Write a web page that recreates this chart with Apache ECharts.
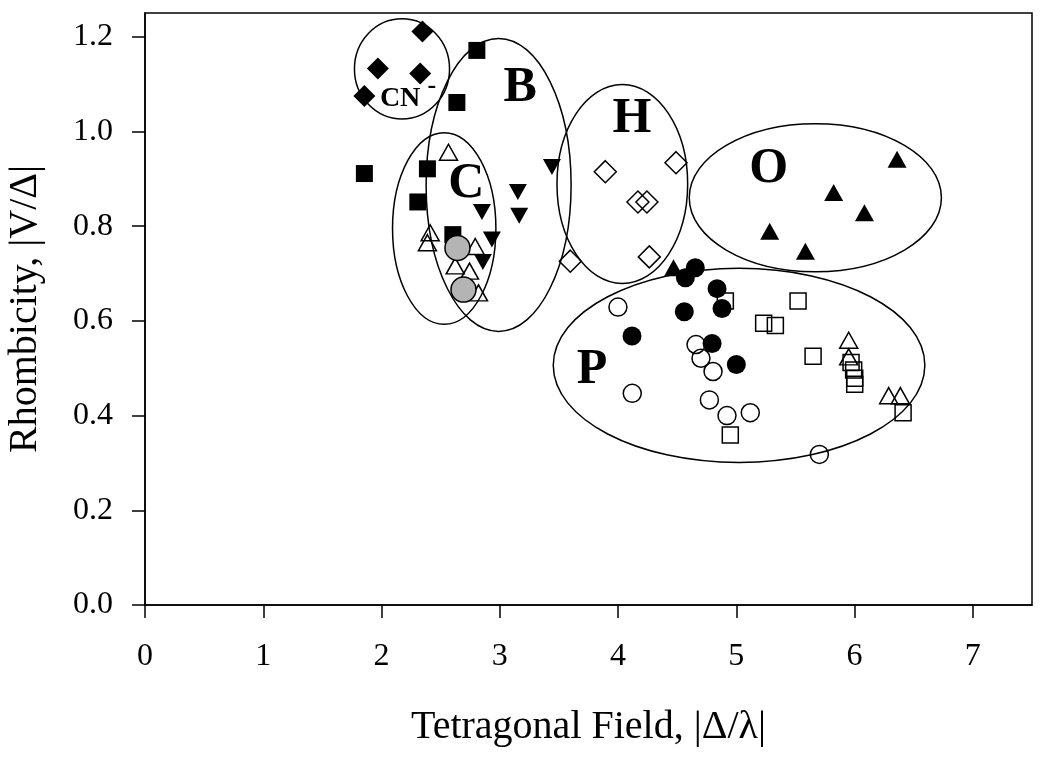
<!DOCTYPE html>
<html>
<head>
<meta charset="utf-8">
<script src="https://cdn.jsdelivr.net/npm/echarts@6/dist/echarts.min.js"></script>
<style>
html,body{margin:0;padding:0;background:#fff;}
#chart{width:1050px;height:762px;}
</style>
</head>
<body>
<div id="chart"></div>
<script>
// ---- tick labels ----
const xTicks = [0, 1, 2, 3, 4, 5, 6, 7];
const yTicks = [0.0, 0.2, 0.4, 0.6, 0.8, 1.0, 1.2];

// ---- series data ----
const cnX = [2.346, 1.969, 2.327, 1.855];
const cnY = [1.211, 1.133, 1.122, 1.075];

const bSqX = [2.806, 2.637, 1.855, 2.388, 2.307, 2.603];
const bSqY = [1.171, 1.061, 0.911, 0.921, 0.851, 0.782];

const bTriX = [3.441, 3.153, 2.849, 3.164, 2.933, 2.857];
const bTriY = [0.925, 0.872, 0.830, 0.822, 0.772, 0.724];

const cTriX = [2.566, 2.411, 2.388, 2.792, 2.623, 2.744, 2.820];
const cTriY = [0.956, 0.786, 0.765, 0.757, 0.716, 0.705, 0.659];

const grayX = [2.642, 2.693];
const grayY = [0.754, 0.666];

const hDiaX = [3.892, 4.490, 4.168, 4.244, 4.264, 3.596];
const hDiaY = [0.915, 0.934, 0.851, 0.851, 0.735, 0.726];

const oTriX = [6.359, 5.823, 6.083, 5.282, 5.584, 4.469];
const oTriY = [0.941, 0.871, 0.828, 0.789, 0.747, 0.712];

const pDotX = [4.653, 4.569, 4.837, 4.879, 4.560, 4.118, 4.795, 5.000];
const pDotY = [0.712, 0.691, 0.668, 0.626, 0.619, 0.568, 0.552, 0.508];

const pCirX = [3.999, 4.659, 4.701, 4.803, 4.120, 4.772, 4.921, 5.118, 5.702];
const pCirY = [0.629, 0.550, 0.521, 0.493, 0.447, 0.433, 0.400, 0.406, 0.318];

const pSqX = [4.907, 5.522, 5.231, 5.330, 5.649, 5.970, 5.992, 6.001, 6.001, 6.410, 4.949];
const pSqY = [0.642, 0.642, 0.595, 0.590, 0.525, 0.512, 0.496, 0.479, 0.466, 0.406, 0.359];

const pTriX = [5.950, 5.950, 6.288, 6.387];
const pTriY = [0.559, 0.524, 0.442, 0.442];

// ---- group ellipses (centre x, centre y, radius x, radius y in data units) ----
const ellCx = [2.173, 2.990, 2.530, 4.036, 5.668, 5.023];
const ellCy = [1.132, 0.887, 0.795, 0.889, 0.860, 0.506];
const ellRx = [0.402, 0.613, 0.437, 0.5525, 1.066, 1.571];
const ellRy = [0.1056, 0.3094, 0.2024, 0.210, 0.1563, 0.2049];

// ---- group labels ----
const labText = ['CN', '-', 'B', 'C', 'H', 'O', 'P'];
const labX = [2.157, 2.426, 3.173, 2.716, 4.118, 5.273, 3.779];
const labY = [1.068, 1.095, 1.092, 0.888, 1.025, 0.921, 0.497];

const FONT = '"Liberation Serif", "Times New Roman", serif';
const zip = (xs, ys) => xs.map((v, i) => [v, ys[i]]);

function sc(name, xs, ys, symbol, size, filled, extra) {
  return Object.assign({
    name: name,
    type: 'scatter',
    data: zip(xs, ys),
    symbol: symbol,
    symbolSize: size,
    z: 3,
    silent: true,
    itemStyle: filled
      ? { color: '#000', borderColor: '#000', borderWidth: 0, opacity: 1 }
      : { color: 'rgba(255,255,255,0)', borderColor: '#000', borderWidth: 1.5, opacity: 1 }
  }, extra || {});
}

const labelSizes = { 'CN': 28, '-': 26, 'B': 50, 'C': 50, 'H': 50, 'O': 50, 'P': 50 };

const chart = echarts.init(document.getElementById('chart'), null, { renderer: 'canvas' });
chart.setOption({
  animation: false,
  backgroundColor: '#fff',
  grid: {
    left: 145, right: 18, top: 13, bottom: 157,
    containLabel: false, outerBoundsMode: 'none',
    show: true, borderColor: '#000', borderWidth: 1.5, backgroundColor: 'transparent'
  },
  xAxis: {
    type: 'value', min: 0, max: 7.5, interval: 1,
    name: 'Tetragonal Field, |Δ/λ|',
    nameLocation: 'middle', nameGap: 102,
    nameTextStyle: { fontFamily: FONT, fontSize: 40, color: '#000' },
    axisLine: { show: true, onZero: false, lineStyle: { color: '#000', width: 1.5 } },
    axisTick: { show: true, inside: false, length: 13, lineStyle: { color: '#000', width: 1.5 }, customValues: xTicks },
    axisLabel: { fontFamily: FONT, fontSize: 32, color: '#000', margin: 36, customValues: xTicks,
                 formatter: v => String(v) },
    splitLine: { show: false }
  },
  yAxis: {
    type: 'value', min: 0, max: 1.25, interval: 0.2,
    name: 'Rhombicity, |V/Δ|',
    nameLocation: 'middle', nameGap: 100, nameRotate: 90,
    nameTextStyle: { fontFamily: FONT, fontSize: 40, color: '#000' },
    axisLine: { show: true, onZero: false, lineStyle: { color: '#000', width: 1.5 } },
    axisTick: { show: true, inside: false, length: 13, lineStyle: { color: '#000', width: 1.5 }, customValues: yTicks },
    axisLabel: { fontFamily: FONT, fontSize: 32, color: '#000', margin: 32, customValues: yTicks,
                 formatter: v => Number(v).toFixed(1) },
    splitLine: { show: false }
  },
  series: [
    {
      name: 'ellipses', type: 'custom', z: 1, silent: true,
      data: ellCx.map((v, i) => [v, ellCy[i], ellRx[i], ellRy[i]]),
      renderItem: function (params, api) {
        const c = api.coord([api.value(0), api.value(1)]);
        const s = api.size([api.value(2), api.value(3)]);
        return {
          type: 'ellipse',
          shape: { cx: c[0], cy: c[1], rx: s[0], ry: s[1] },
          style: { fill: 'none', stroke: '#000', lineWidth: 1.5 }
        };
      }
    },
    sc('CN', cnX, cnY, 'diamond', 22, true),
    sc('Bsq', bSqX, bSqY, 'rect', 17, true),
    sc('Btri', bTriX, bTriY, 'triangle', [18, 16], true, { symbolRotate: 180 }),
    sc('Ctri', cTriX, cTriY, 'triangle', [18, 16], false),
    sc('gray', grayX, grayY, 'circle', 25, true,
       { z: 4, itemStyle: { color: '#b4b4b4', borderColor: '#000', borderWidth: 1.5, opacity: 1 } }),
    sc('Hdia', hDiaX, hDiaY, 'diamond', 22, false),
    sc('Otri', oTriX, oTriY, 'triangle', [19, 17], true),
    sc('Pcir', pCirX, pCirY, 'circle', 18, false),
    sc('Psq', pSqX, pSqY, 'rect', 16, false),
    sc('Ptri', pTriX, pTriY, 'triangle', [18, 16], false),
    sc('Pdot', pDotX, pDotY, 'circle', 19, true, { z: 4 }),
    {
      name: 'labels', type: 'custom', z: 5, silent: true,
      data: labX.map((v, i) => [v, labY[i], i]),
      renderItem: function (params, api) {
        const c = api.coord([api.value(0), api.value(1)]);
        const t = labText[api.value(2)];
        return {
          type: 'text',
          x: c[0], y: c[1],
          style: {
            text: t,
            font: 'bold ' + labelSizes[t] + 'px ' + FONT,
            fill: '#000', align: 'center', verticalAlign: 'middle'
          }
        };
      }
    }
  ]
});
</script>
</body>
</html>
